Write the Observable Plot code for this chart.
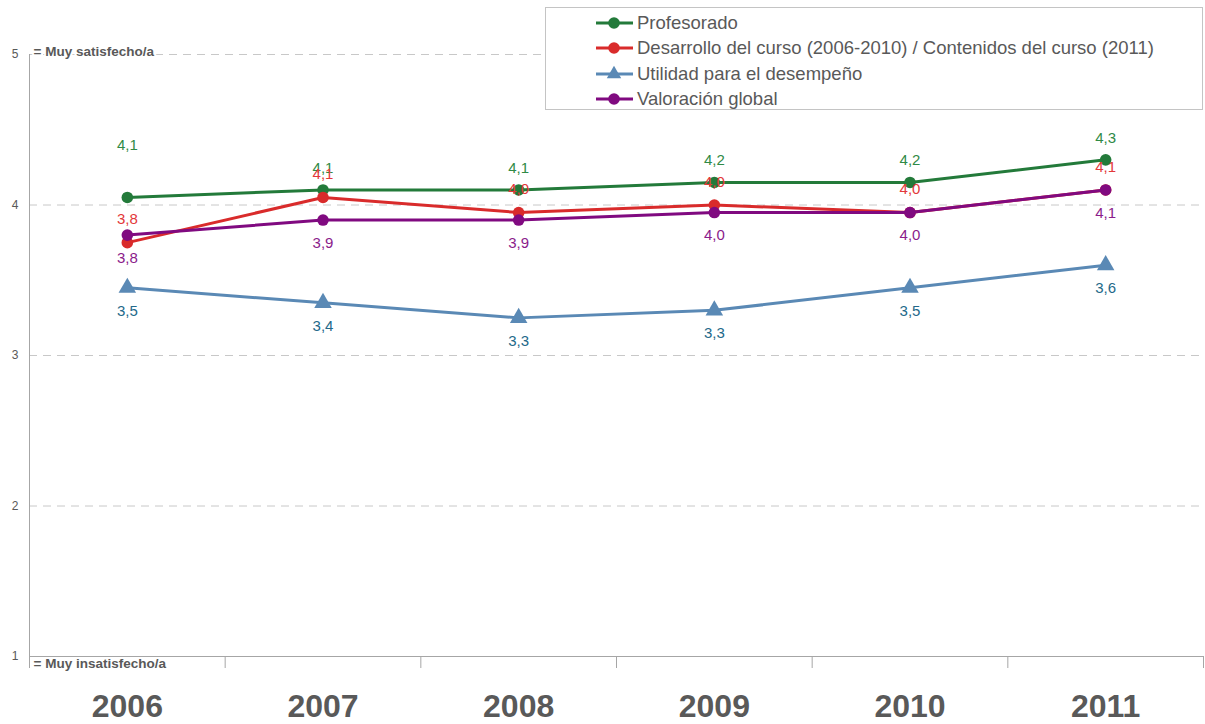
<!DOCTYPE html>
<html>
<head>
<meta charset="utf-8">
<script src="https://cdn.jsdelivr.net/npm/d3@7"></script>
<script src="https://cdn.jsdelivr.net/npm/@observablehq/plot@0.6"></script>
<style>
  html, body { margin: 0; padding: 0; background: #fff; }
  #wrap { position: relative; width: 1205px; height: 724px; font-family: "Liberation Sans", Arial, sans-serif; }
  #legend { position: absolute; left: 545px; top: 7px; width: 658px; height: 103px;
            border: 1px solid #c4c4c4; background: #fff; box-sizing: border-box; }
</style>
</head>
<body>
<div id="wrap"><div id="legend"></div></div>
<script>
// Survey years
const years = [2006, 2007, 2008, 2009, 2010, 2011];

// Mean satisfaction scores (1–5 scale) per item
const profesorado = [4.05, 4.10, 4.10, 4.15, 4.15, 4.30];
const desarrollo  = [3.75, 4.05, 3.95, 4.00, 3.95, 4.10];
const utilidad    = [3.45, 3.35, 3.25, 3.30, 3.45, 3.60];
const valoracion  = [3.80, 3.90, 3.90, 3.95, 3.95, 4.10];

const seriesNames = [
  "Profesorado",
  "Desarrollo del curso (2006-2010) / Contenidos del curso (2011)",
  "Utilidad para el desempeño",
  "Valoración global"
];

// Scale ends and their meaning
const yTicks = [1, 2, 3, 4, 5];
const scaleEnds = [
  {y: 5, text: "= Muy satisfecho/a"},
  {y: 1, text: "= Muy insatisfecho/a"}
];

// Visual styling per series (labelLift: extra upward shift for the first year's label)
const styles = [
  {line: "#237a3a", label: "#2f8a46", symbol: "circle",   labelDy: -22, labelLift: 30},
  {line: "#d92b2b", label: "#e3383a", symbol: "circle",   labelDy: -23, labelLift: 0},
  {line: "#5a89b5", label: "#23698a", symbol: "triangle", labelDy: 23,  labelLift: 0},
  {line: "#800a80", label: "#8b1c8b", symbol: "circle",   labelDy: 23,  labelLift: 0}
];

const valuesBySeries = [profesorado, desarrollo, utilidad, valoracion];
const tables = valuesBySeries.map((vals, i) =>
  years.map((year, j) => ({year, value: vals[j], series: seriesNames[i]}))
);

// One-decimal label with comma as decimal separator (half rounds up)
const fmt = v => (Math.round(v * 10 + 1e-6) / 10).toFixed(1).replace(".", ",");

// Category boundaries for the bottom tick marks
const boundaries = [years[0] - 0.5, ...years.map(y => y + 0.5)];

const axisGray = "#a6a6a6";
const textGray = "#595959";

const lineMarks = [];
const labelMarks = [];
tables.forEach((data, i) => {
  const s = styles[i];
  lineMarks.push(
    Plot.line(data, {x: "year", y: "value", stroke: s.line, strokeWidth: 3}),
    Plot.dot(data, {x: "year", y: "value", fill: s.line, stroke: "none",
                    symbol: s.symbol, r: s.symbol === "triangle" ? 6.5 : 5.8})
  );
  const first = years[0];
  labelMarks.push(
    Plot.text(data, {filter: d => d.year !== first, x: "year", y: "value", text: d => fmt(d.value),
                     dy: s.labelDy, fill: s.label, fontSize: 15}),
    Plot.text(data, {filter: d => d.year === first, x: "year", y: "value", text: d => fmt(d.value),
                     dy: s.labelDy - s.labelLift, fill: s.label, fontSize: 15})
  );
});

const chart = Plot.plot({
  width: 1205,
  height: 724,
  marginLeft: 29,
  marginRight: 2,
  marginTop: 54,
  marginBottom: 68,
  x: {type: "linear", domain: [boundaries[0], boundaries[boundaries.length - 1]], label: null},
  y: {domain: [1, 5], label: null},
  style: {fontFamily: "'Liberation Sans', Arial, sans-serif", color: textGray, background: "white", overflow: "visible"},
  marks: [
    Plot.gridY([2, 3, 4, 5], {stroke: "#c8c8c8", strokeOpacity: 1, strokeDasharray: "8,6"}),
    Plot.axisY(yTicks, {tickSize: 0, tickPadding: 11, fontSize: 12, label: null, tickFormat: d => String(d)}),
    Plot.ruleY([1], {stroke: axisGray}),
    Plot.ruleX([boundaries[0]], {y1: 1, y2: 5, stroke: axisGray}),
    Plot.axisX(boundaries, {tickSize: 12, tickFormat: () => "", stroke: axisGray, label: null}),
    Plot.axisX(years, {tickSize: 0, tickPadding: 38, fontSize: 32, fontWeight: "bold",
                       tickFormat: d => String(d), label: null}),
    Plot.text(scaleEnds, {y: "y", text: "text", frameAnchor: "left", textAnchor: "start",
                          dx: 4, fontSize: 13.5, fontWeight: "bold", fill: textGray,
                          stroke: "white", strokeWidth: 4, paintOrder: "stroke",
                          lineAnchor: "bottom"}),
    ...lineMarks,
    ...labelMarks
  ]
});

document.getElementById("wrap").prepend(chart);

// Place the scale-end notes: upper one on its gridline, lower one just below the baseline
d3.select(chart).selectAll("text").filter(function() { return this.textContent === scaleEnds[1].text; })
  .attr("dy", "0.82em");
d3.select(chart).selectAll("text").filter(function() { return this.textContent === scaleEnds[0].text; })
  .attr("dy", "0.1em");

// Legend
const rowY = [15, 40, 66, 91];
const lsvg = d3.select("#legend").append("svg").attr("width", 656).attr("height", 101)
  .style("font-family", "'Liberation Sans', Arial, sans-serif");
seriesNames.forEach((name, i) => {
  const g = lsvg.append("g").attr("transform", `translate(0,${rowY[i]})`);
  g.append("line").attr("x1", 50).attr("x2", 87).attr("stroke", styles[i].line).attr("stroke-width", 3);
  if (styles[i].symbol === "triangle") {
    g.append("path").attr("d", d3.symbol(d3.symbolTriangle, 90)()).attr("transform", "translate(68,0)")
      .attr("fill", styles[i].line);
  } else {
    g.append("circle").attr("cx", 68).attr("r", 5.8).attr("fill", styles[i].line);
  }
  g.append("text").attr("x", 91).attr("dy", "0.35em").attr("font-size", 18.5).attr("fill", textGray).text(name);
});
</script>
</body>
</html>
